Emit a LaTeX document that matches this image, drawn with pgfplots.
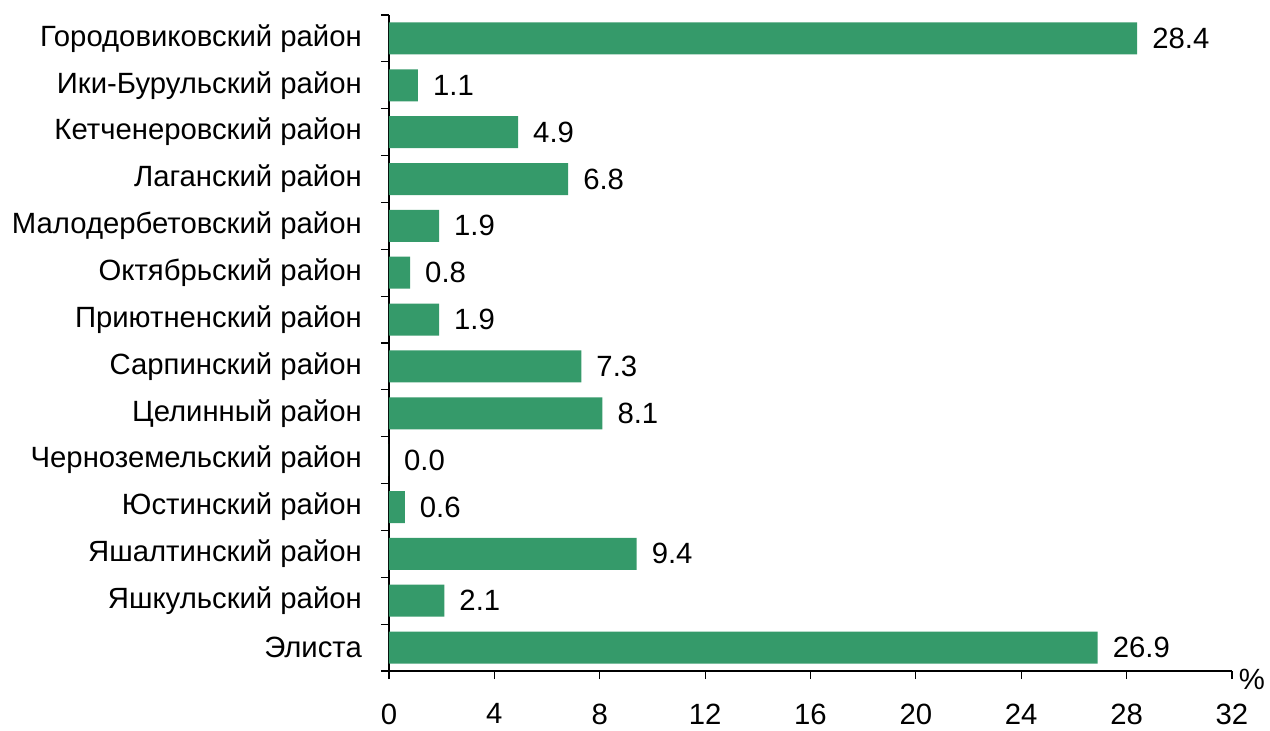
\documentclass[border=0pt]{standalone}
\usepackage{pgfplots}
\pgfplotsset{compat=1.18}
\usepackage{fontspec}
\setmainfont{Liberation Sans}
\definecolor{barc}{RGB}{53,154,106}
\begin{document}
\fontsize{14.7}{17}\selectfont
\begin{tikzpicture}
\begin{axis}[
  scale only axis,
  width=421.5bp, height=328bp,
  xbar, bar width=16bp,
  xmin=0, xmax=32,
  ymin=-0.5, ymax=13.5,
  y dir=reverse,
  axis x line*=bottom, axis y line*=left,
  axis line style={line width=0.6bp},
  xtick={0,4,...,32},
  ytick={0,...,13},
  yticklabels={Городовиковский район,Ики-Бурульский район,Кетченеровский район,Лаганский район,Малодербетовский район,Октябрьский район,Приютненский район,Сарпинский район,Целинный район,Черноземельский район,Юстинский район,Яшалтинский район,Яшкульский район,Элиста},
  minor ytick={-0.5,0.5,...,13.5},
  tick align=outside,
  major tick length=4bp,
  minor tick length=4bp,
  y tick style={draw=none},
  minor y tick style={draw=black, line width=0.6bp},
  x tick style={draw=black, line width=0.6bp},
  xticklabel style={yshift=-7.3bp},
  yticklabel style={xshift=-4.5bp},
  /pgf/number format/assume math mode=true,
  tick label style={font=\fontsize{14.7}{17}\selectfont},
  nodes near coords,
  nodes near coords style={anchor=west, xshift=2.5bp, font=\fontsize{14.7}{17}\selectfont, /pgf/number format/.cd, fixed, fixed zerofill, precision=1, assume math mode=true},
  clip=false,
]
\addplot[fill=barc, draw=none] coordinates {
(28.4,0) (1.1,1) (4.9,2) (6.8,3) (1.9,4) (0.8,5) (1.9,6) (7.3,7) (8.1,8) (0.0,9) (0.6,10) (9.4,11) (2.1,12) (26.9,13)
};
\node[font=\fontsize{14.7}{17}\selectfont] at ([xshift=10bp,yshift=-4bp]rel axis cs:1,0) {\%};
\coordinate (bl) at (rel axis cs:0,0);
\coordinate (tr) at (rel axis cs:1,1);
\end{axis}
\pgfresetboundingbox
\path[use as bounding box] ([xshift=-194.5bp,yshift=-30bp]bl) rectangle ([xshift=19bp,yshift=7.5bp]tr);
\end{tikzpicture}
\end{document}
